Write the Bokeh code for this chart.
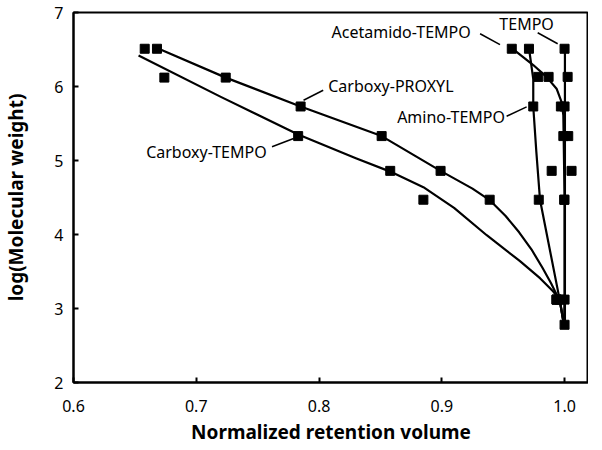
from bokeh.plotting import figure
from bokeh.models import Range1d, FixedTicker, Label
from bokeh.embed import file_html
from bokeh.resources import INLINE

# ---- data ----
x_ticks = [0.6, 0.7, 0.8, 0.9, 1.0]
x_tick_labels = ["0.6", "0.7", "0.8", "0.9", "1.0"]
y_ticks = [2, 3, 4, 5, 6, 7]
y_tick_labels = ["2", "3", "4", "5", "6", "7"]

# measured points
cproxyl_x = [0.668, 0.724, 0.785, 0.851, 0.899, 0.939, 0.9935]
cproxyl_y = [6.51, 6.12, 5.73, 5.33, 4.86, 4.47, 3.12]
ctempo_x = [0.658, 0.674, 0.783, 0.858, 0.885, 0.9935]
ctempo_y = [6.51, 6.12, 5.33, 4.86, 4.47, 3.12]
acet_x = [0.957, 0.987, 0.997, 0.999, 0.9895, 0.9998, 0.9960]
acet_y = [6.51, 6.13, 5.73, 5.33, 4.86, 4.47, 3.12]
amino_x = [0.971, 0.9786, 0.9745, 0.979, 0.9935]
amino_y = [6.51, 6.13, 5.73, 4.47, 3.12]
tempo_x = [1.000, 1.0025, 1.000, 1.003, 1.0057, 0.9998, 1.000, 1.000]
tempo_y = [6.51, 6.13, 5.73, 5.33, 4.86, 4.47, 3.12, 2.78]

# fitted curves
fit_cproxyl_x = [0.668, 0.724, 0.785, 0.851, 0.899, 0.925, 0.9393, 0.952, 0.963, 0.973, 0.982, 0.989, 0.9935, 0.996, 0.9995]
fit_cproxyl_y = [6.52, 6.12, 5.73, 5.33, 4.86, 4.62, 4.46, 4.25, 4.03, 3.80, 3.55, 3.34, 3.19, 3.12, 2.78]
fit_ctempo_x = [0.653, 0.720, 0.783, 0.830, 0.858, 0.885, 0.910, 0.9366, 0.9637, 0.980, 0.9908, 0.996, 0.9995]
fit_ctempo_y = [6.42, 5.86, 5.35, 5.03, 4.85, 4.64, 4.36, 3.99, 3.64, 3.41, 3.23, 3.12, 2.78]
fit_acet_x = [0.957, 0.9745, 0.9853, 0.9935, 0.9976, 0.9990, 1.000, 1.000, 0.9995]
fit_acet_y = [6.52, 6.29, 6.13, 5.97, 5.79, 5.61, 4.50, 3.12, 2.78]
fit_amino_x = [0.971, 0.9745, 0.9745, 0.977, 0.980, 0.996, 0.9995]
fit_amino_y = [6.52, 6.10, 5.73, 5.12, 4.47, 3.12, 2.78]
fit_tempo_x = [1.0003, 1.0003]
fit_tempo_y = [6.52, 2.78]

FONT = "Noto Sans"

p = figure(width=588, height=447, output_backend="svg", toolbar_location=None,
           x_range=Range1d(0.6, 1.0195), y_range=Range1d(2, 7),
           min_border_left=72, min_border_right=0, min_border_top=12, min_border_bottom=58)
p.background_fill_color = "white"
p.border_fill_color = "white"
p.grid.visible = False
p.outline_line_color = "black"
p.outline_line_width = 2

for ax in (p.xaxis[0], p.yaxis[0]):
    ax.axis_line_width = 2
    ax.major_tick_line_width = 2
    ax.major_tick_in = 5
    ax.major_tick_out = 0
    ax.minor_tick_line_color = None
    ax.major_label_text_font = FONT
    ax.major_label_text_font_size = "16px"
    ax.major_label_text_color = "black"
    ax.axis_label_text_font = FONT
    ax.axis_label_text_font_size = "19px"
    ax.axis_label_text_font_style = "bold"
    ax.axis_label_text_color = "black"

p.xaxis.ticker = FixedTicker(ticks=x_ticks)
p.xaxis.major_label_overrides = {t: l for t, l in zip(x_ticks, x_tick_labels)}
p.yaxis.ticker = FixedTicker(ticks=y_ticks)
p.yaxis.major_label_overrides = {t: l for t, l in zip(y_ticks, y_tick_labels)}
p.xaxis.axis_label = "Normalized retention volume"
p.yaxis.axis_label = "log(Molecular weight)"
p.xaxis.major_label_standoff = 17
p.xaxis.axis_label_standoff = 4
p.yaxis.major_label_standoff = 10
p.yaxis.axis_label_standoff = 22

for fx, fy in [(fit_cproxyl_x, fit_cproxyl_y), (fit_ctempo_x, fit_ctempo_y),
               (fit_acet_x, fit_acet_y), (fit_amino_x, fit_amino_y),
               (fit_tempo_x, fit_tempo_y)]:
    p.line(fx, fy, line_color="black", line_width=2.2, line_join="round")

for mx, my in [(cproxyl_x, cproxyl_y), (ctempo_x, ctempo_y), (acet_x, acet_y),
               (amino_x, amino_y), (tempo_x, tempo_y)]:
    p.scatter(mx, my, marker="square", size=9, fill_color="black", line_color="black")

# labels and leader lines
labels = [
    ("Carboxy-PROXYL", 0.8075, 6.007, "left", (0.7874, 0.8034), (5.814, 5.949)),
    ("Carboxy-TEMPO", 0.6592, 5.117, "left", (0.7617, 0.7793), (5.185, 5.298)),
    ("Acetamido-TEMPO", 0.9236, 6.735, "right", (0.9312, 0.9474), (6.713, 6.565)),
    ("TEMPO", 0.9469, 6.838, "left", (0.9781, 0.9944), (6.726, 6.578)),
    ("Amino-TEMPO", 0.9515, 5.589, "right", (0.9528, 0.9691), (5.598, 5.724)),
]
for txt, lx, ly, align, sx, sy in labels:
    p.add_layout(Label(x=lx, y=ly, text=txt, text_font=FONT, text_font_size="16px",
                       text_align=align, text_baseline="middle", text_color="black"))
    p.line(list(sx), list(sy), line_color="black", line_width=1.5)

open("out.html", "w").write(file_html(p, INLINE))
